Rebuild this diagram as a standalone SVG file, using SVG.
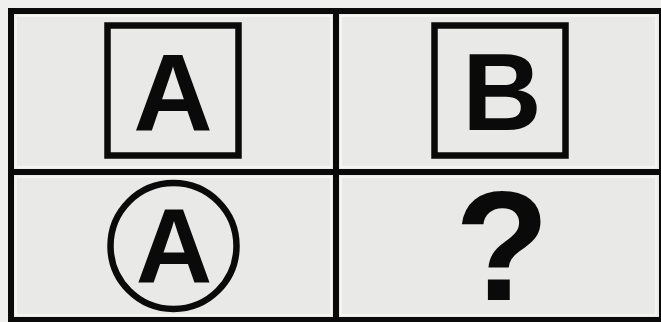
<svg xmlns="http://www.w3.org/2000/svg" width="661" height="322" viewBox="0 0 661 322">
<style>
.frame{fill:none;stroke:#0a0a0a;stroke-width:6}
.hl{fill:none;stroke:#f7f7f5;stroke-width:1.5}
.shape{fill:none;stroke:#0a0a0a;stroke-width:6.5}
.lbl{font-family:"Liberation Sans",Arial,sans-serif;font-weight:bold;fill:#0a0a0a;text-anchor:middle}
</style>
<rect x="0" y="0" width="661" height="322" fill="#efefed"/>
<rect x="11" y="11" width="651" height="309" fill="#e9e9e7"/>
<g id="highlights">
<rect class="hl" x="16" y="16" width="315" height="151"/>
<rect class="hl" x="341" y="16" width="315" height="151"/>
<rect class="hl" x="16" y="177" width="315" height="138"/>
<rect class="hl" x="341" y="177" width="315" height="138"/>
</g>
<g id="grid">
<rect class="frame" x="11" y="11" width="651" height="309"/>
<line class="frame" x1="336" y1="11" x2="336" y2="320"/>
<line class="frame" x1="11" y1="172" x2="662" y2="172"/>
</g>
<g id="cell-a-square">
<rect class="shape" x="107.5" y="25.5" width="131" height="130"/>
<text class="lbl" x="173" y="130" font-size="110">A</text>
</g>
<g id="cell-b-square">
<rect class="shape" x="434.5" y="25.5" width="131" height="130"/>
<text class="lbl" x="502" y="130" font-size="110">B</text>
</g>
<g id="cell-a-circle">
<circle class="shape" cx="173.5" cy="246" r="63"/>
<text class="lbl" x="174" y="283" font-size="106">A</text>
</g>
<g id="cell-question">
<text class="lbl" x="502" y="300" font-size="155">?</text>
</g>
</svg>
